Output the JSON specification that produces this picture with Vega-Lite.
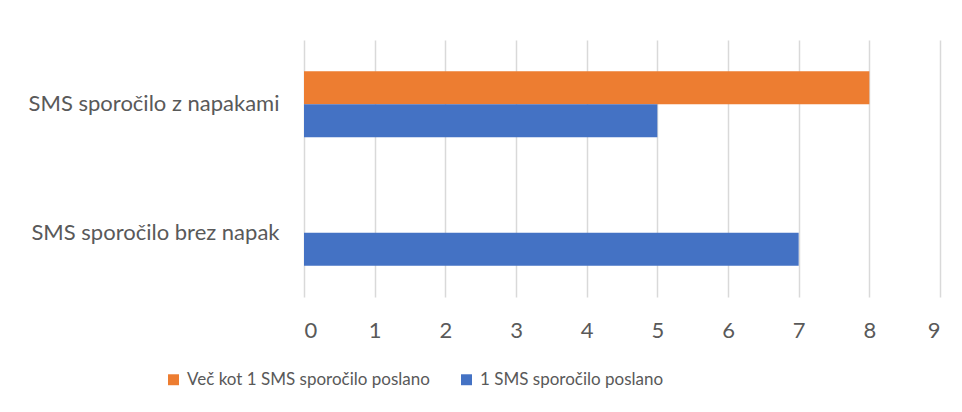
{
  "$schema": "https://vega.github.io/schema/vega-lite/v6.json",
  "autosize": "none",
  "width": 636,
  "height": 257,
  "padding": {"left": 304, "top": 40, "right": 22, "bottom": 115},
  "background": "white",
  "data": {
    "values": [
      {"kategorija": "SMS sporočilo z napakami", "serija": "Več kot 1 SMS sporočilo poslano", "vrednost": 8},
      {"kategorija": "SMS sporočilo z napakami", "serija": "1 SMS sporočilo poslano", "vrednost": 5},
      {"kategorija": "SMS sporočilo brez napak", "serija": "Več kot 1 SMS sporočilo poslano", "vrednost": 0},
      {"kategorija": "SMS sporočilo brez napak", "serija": "1 SMS sporočilo poslano", "vrednost": 7}
    ]
  },
  "mark": {"type": "bar"},
  "encoding": {
    "y": {
      "field": "kategorija",
      "type": "nominal",
      "sort": ["SMS sporočilo z napakami", "SMS sporočilo brez napak"],
      "scale": {"paddingInner": 0.486, "paddingOuter": 0.243},
      "axis": {"title": null, "ticks": false, "domain": false, "labelPadding": 25, "labelLimit": 400, "labelFontSize": 22, "labelColor": "#595959", "labelFont": "Lato"}
    },
    "yOffset": {
      "field": "serija",
      "type": "nominal",
      "sort": ["Več kot 1 SMS sporočilo poslano", "1 SMS sporočilo poslano"],
      "scale": {"paddingInner": 0, "paddingOuter": 0}
    },
    "x": {
      "field": "vrednost",
      "type": "quantitative",
      "scale": {"domain": [0, 9], "nice": false},
      "axis": {"title": null, "values": [0,1,2,3,4,5,6,7,8,9], "grid": true, "gridColor": "#d9d9d9", "gridWidth": 1.5, "domain": false, "ticks": false, "labelPadding": 23, "labelFontSize": 22, "labelColor": "#595959", "labelFont": "Lato"}
    },
    "color": {
      "field": "serija",
      "type": "nominal",
      "sort": ["Več kot 1 SMS sporočilo poslano", "1 SMS sporočilo poslano"],
      "scale": {"domain": ["Več kot 1 SMS sporočilo poslano", "1 SMS sporočilo poslano"], "range": ["#ED7D31", "#4472C4"]},
      "legend": {
        "title": null,
        "orient": "none",
        "direction": "horizontal",
        "legendX": -139,
        "legendY": 331,
        "symbolType": "square",
        "symbolSize": 120,
        "symbolStrokeWidth": 0,
        "labelFontSize": 17,
        "labelColor": "#595959",
        "labelFont": "Lato",
        "labelLimit": 400,
        "columnPadding": 28,
        "labelOffset": 5
      }
    }
  },
  "config": {"view": {"stroke": null}}
}
